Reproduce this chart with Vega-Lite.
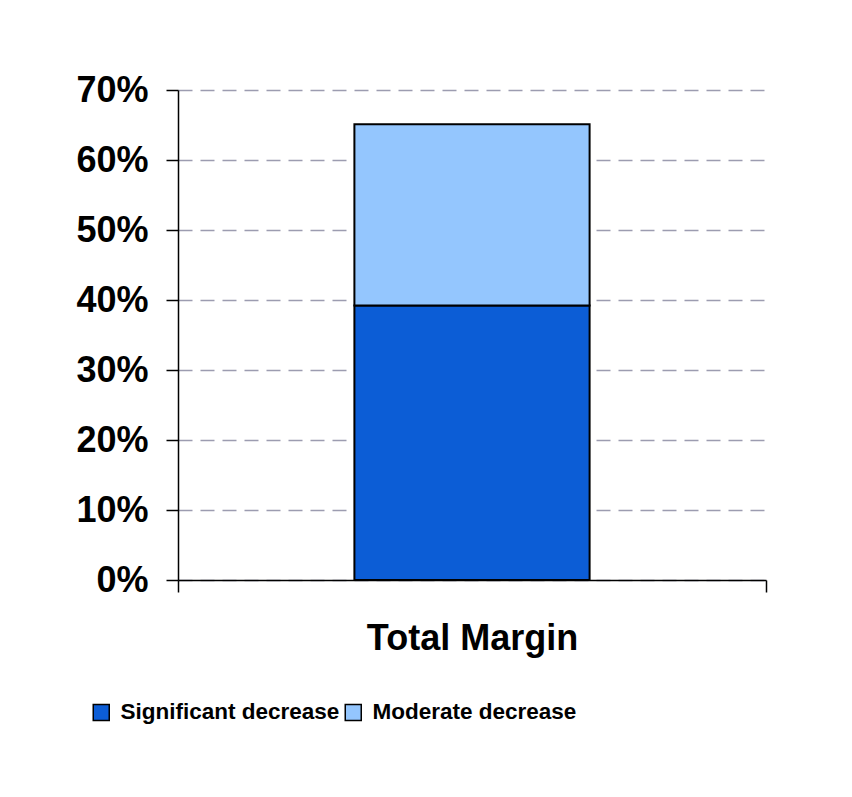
{
  "$schema": "https://vega.github.io/schema/vega-lite/v6.json",
  "autosize": {"type": "none"},
  "padding": {"left": 178, "top": 90, "right": 86, "bottom": 217},
  "width": 588,
  "height": 490,
  "background": "white",
  "data": {
    "values": [
      {"category": "Total Margin", "type": "Significant decrease", "value": 0.392},
      {"category": "Total Margin", "type": "Moderate decrease", "value": 0.259}
    ]
  },
  "mark": {"type": "bar", "width": {"band": 0.4}, "stroke": "black", "strokeWidth": 2},
  "encoding": {
    "x": {
      "field": "category",
      "type": "nominal",
      "scale": {"paddingInner": 0, "paddingOuter": 0},
      "axis": {
        "title": null,
        "labelAngle": 0,
        "tickBand": "extent",
        "tickSize": 12,
        "tickColor": "black",
        "tickWidth": 1.5,
        "domainColor": "black",
        "domainWidth": 1.5,
        "labelFont": "Liberation Sans",
        "labelFontSize": 36,
        "labelFontWeight": "bold",
        "labelColor": "black",
        "labelBaseline": "alphabetic",
        "labelPadding": 57,
        "labelLimit": 0
      }
    },
    "y": {
      "field": "value",
      "type": "quantitative",
      "stack": "zero",
      "scale": {"domain": [0, 0.7], "nice": false},
      "axis": {
        "title": null,
        "values": [0, 0.1, 0.2, 0.3, 0.4, 0.5, 0.6, 0.7],
        "format": ".0%",
        "tickSize": 12,
        "tickColor": "black",
        "tickWidth": 1.5,
        "domainColor": "black",
        "domainWidth": 1.5,
        "labelFont": "Liberation Sans",
        "labelFontSize": 36,
        "labelFontWeight": "bold",
        "labelColor": "black",
        "labelPadding": 18,
        "grid": true,
        "gridColor": "#9c9cb0",
        "gridWidth": 1.5,
        "gridDash": [14, 8]
      }
    },
    "color": {
      "field": "type",
      "type": "nominal",
      "scale": {
        "domain": ["Significant decrease", "Moderate decrease"],
        "range": ["#0c5dd6", "#94c6fe"]
      },
      "legend": {
        "title": null,
        "orient": "none",
        "direction": "horizontal",
        "legendX": -88,
        "legendY": 611,
        "symbolType": "square",
        "symbolSize": 256,
        "symbolStrokeColor": "black",
        "symbolStrokeWidth": 1.5,
        "symbolOpacity": 1,
        "labelFont": "Liberation Sans",
        "labelFontSize": 22.5,
        "labelFontWeight": "bold",
        "labelColor": "black",
        "labelOffset": 8,
        "labelLimit": 0,
        "columnPadding": 2
      }
    },
    "order": {"field": "type", "sort": "descending"}
  },
  "config": {"view": {"stroke": null}}
}
